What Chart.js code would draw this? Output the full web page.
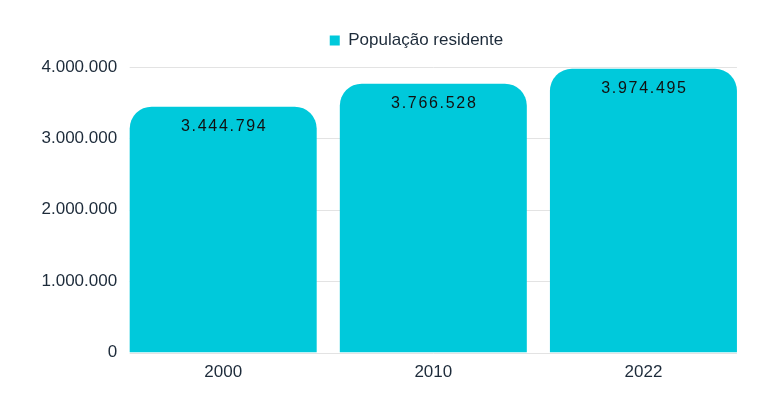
<!DOCTYPE html>
<html>
<head>
<meta charset="utf-8">
<script src="https://cdn.jsdelivr.net/npm/chart.js@4"></script>
<style>
  html, body { margin: 0; padding: 0; background: #fff; }
  #wrap { width: 781px; height: 398px; }
</style>
</head>
<body>
<div id="wrap"><canvas id="chart" width="781" height="398"></canvas></div>
<script>
// dados
var anos = ['2000', '2010', '2022'];
var populacao = [3444794, 3766528, 3974495];
var serieNome = 'População residente';
var ticksY = [0, 1000000, 2000000, 3000000, 4000000];

var corBarra = '#00C9DB';
var corTexto = '#1d2b3a';
var corGrade = '#e3e3e3';

function formatarPt(v) {
  return String(v).replace(/\B(?=(\d{3})+(?!\d))/g, '.');
}

// linhas de grade so entre a primeira e a ultima barra
var gradeBarras = {
  id: 'gradeBarras',
  beforeDatasetsDraw: function(chart) {
    var ctx = chart.ctx;
    var barras = chart.getDatasetMeta(0).data;
    var ini = barras[0].x - barras[0].width / 2;
    var ult = barras[barras.length - 1];
    var fim = ult.x + ult.width / 2;
    var escala = chart.scales.y;
    ctx.save();
    ctx.strokeStyle = corGrade;
    ctx.lineWidth = 1;
    ticksY.forEach(function(t) {
      var y = Math.round(escala.getPixelForValue(t)) + 0.5;
      ctx.beginPath();
      ctx.moveTo(ini, y);
      ctx.lineTo(fim, y);
      ctx.stroke();
    });
    ctx.restore();
  }
};

// rotulos dentro das barras
var rotulosBarras = {
  id: 'rotulosBarras',
  afterDatasetsDraw: function(chart) {
    var ctx = chart.ctx;
    var meta = chart.getDatasetMeta(0);
    ctx.save();
    ctx.font = '16px "Liberation Sans", Arial, sans-serif';
    ctx.fillStyle = '#111';
    ctx.textAlign = 'center';
    ctx.textBaseline = 'middle';
    if ('letterSpacing' in ctx) ctx.letterSpacing = '1.7px';
    meta.data.forEach(function(bar, i) {
      var y = Math.max(bar.y + 20, chart.chartArea.top + 18);
      ctx.fillText(formatarPt(populacao[i]), bar.x + 1, y);
    });
    ctx.restore();
  }
};

// espaco extra abaixo da legenda e deslocamento para a direita
var margemLegenda = {
  id: 'margemLegenda',
  beforeInit: function(chart) {
    var fitOriginal = chart.legend.fit;
    chart.legend.fit = function() {
      fitOriginal.bind(chart.legend)();
      this.height += 8;
    };
  },
  afterLayout: function(chart) {
    chart.legend.left += 22;
    chart.legend.right += 22;
  }
};

Chart.defaults.font.family = '"Liberation Sans", Arial, sans-serif';
Chart.defaults.font.size = 17;
Chart.defaults.color = corTexto;

new Chart(document.getElementById('chart'), {
  type: 'bar',
  data: {
    labels: anos,
    datasets: [{
      label: serieNome,
      data: populacao,
      backgroundColor: corBarra,
      borderRadius: { topLeft: 22, topRight: 22, bottomLeft: 0, bottomRight: 0 },
      borderSkipped: 'bottom',
      barPercentage: 1,
      categoryPercentage: 0.89
    }]
  },
  options: {
    responsive: false,
    animation: false,
    layout: { padding: { left: 40.5, right: 32.5, top: 6, bottom: 5 } },
    plugins: {
      legend: {
        position: 'top',
        labels: { boxWidth: 10, boxHeight: 10, padding: 26, color: corTexto }
      },
      tooltip: { enabled: false }
    },
    scales: {
      x: {
        grid: { display: false, drawTicks: false },
        border: { display: false },
        ticks: { padding: 10 }
      },
      y: {
        min: 0,
        max: 4000000,
        afterBuildTicks: function(axis) {
          axis.ticks = ticksY.map(function(v) { return { value: v }; });
        },
        ticks: { padding: 1, callback: function(v) { return formatarPt(v); } },
        grid: { display: false, drawTicks: false },
        border: { display: false }
      }
    }
  },
  plugins: [gradeBarras, rotulosBarras, margemLegenda]
});
</script>
</body>
</html>
